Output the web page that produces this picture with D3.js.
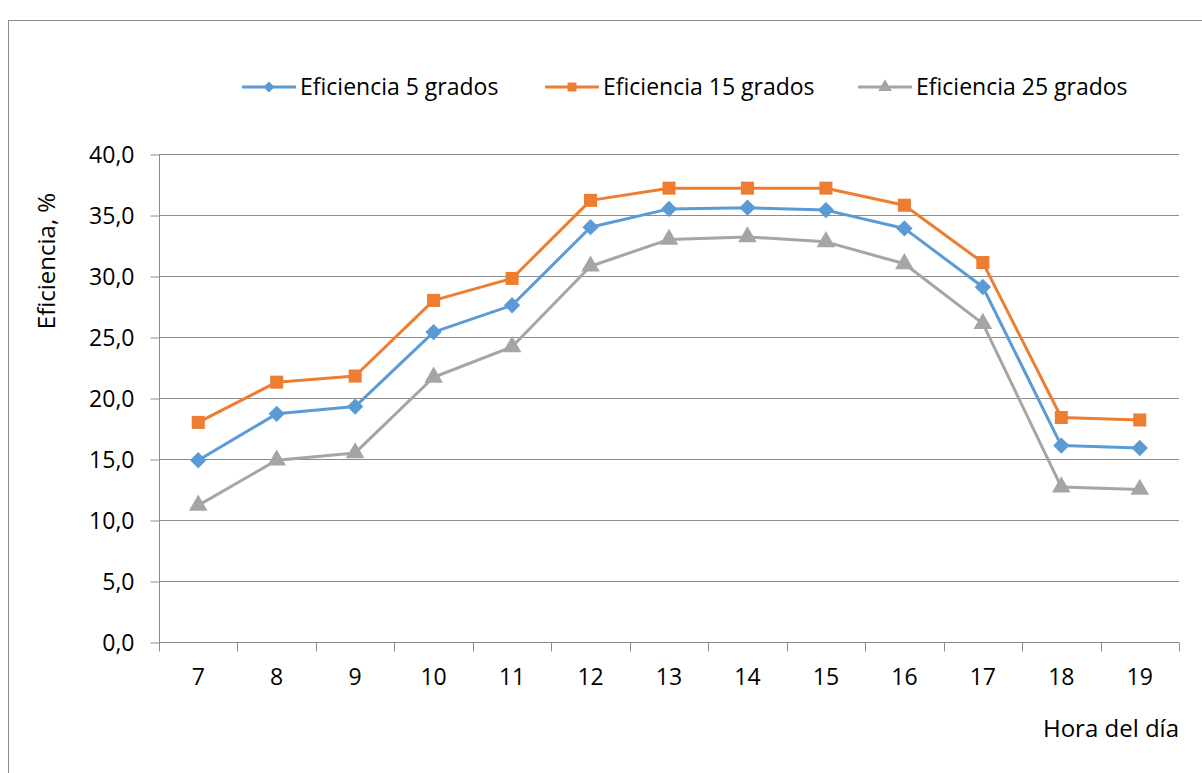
<!DOCTYPE html>
<html>
<head>
<meta charset="utf-8">
<script src="https://cdn.jsdelivr.net/npm/d3@7"></script>
<style>
  body { margin: 0; background: #fff; }
  svg text { font-family: "Open Sans", Lato, sans-serif; fill: #000; }
</style>
</head>
<body>
<div class="chart"></div>
<script>
  var horas      = ["7","8","9","10","11","12","13","14","15","16","17","18","19"];
  var ef5        = [14.9, 18.7, 19.3, 25.4, 27.6, 34.0, 35.5, 35.6, 35.4, 33.9, 29.1, 16.1, 15.9];
  var ef15       = [18.0, 21.3, 21.8, 28.0, 29.8, 36.2, 37.2, 37.2, 37.2, 35.8, 31.1, 18.4, 18.2];
  var ef25       = [11.2, 14.9, 15.5, 21.7, 24.2, 30.8, 33.0, 33.2, 32.8, 31.0, 26.1, 12.7, 12.5];
  var yTicks     = [0, 5, 10, 15, 20, 25, 30, 35, 40];
  var serieNames = ["Eficiencia 5 grados", "Eficiencia 15 grados", "Eficiencia 25 grados"];

  var series = [
    {name: serieNames[0], values: ef5,  color: "#5B9BD5", symbol: d3.symbolDiamond2},
    {name: serieNames[1], values: ef15, color: "#ED7D31", symbol: d3.symbolSquare},
    {name: serieNames[2], values: ef25, color: "#A5A5A5", symbol: d3.symbolTriangle}
  ];

  var W = 1202, H = 773;
  var plotL = 159, plotR = 1179, plotT = 154, plotB = 642;

  var svg = d3.select(".chart").append("svg")
    .attr("width", W).attr("height", H);

  // chart frame
  svg.append("rect")
    .attr("x", 8.5).attr("y", 20.5)
    .attr("width", W).attr("height", H)
    .attr("fill", "none").attr("stroke", "#8c8c8c");

  var x = d3.scaleBand().domain(horas).range([plotL, plotR]);
  var y = d3.scaleLinear().domain([0, 40]).range([plotB, plotT]);

  // gridlines
  svg.append("g").selectAll("line")
    .data(yTicks.slice(1))
    .enter().append("line")
    .attr("x1", plotL).attr("x2", plotR)
    .attr("y1", function(d){ return Math.round(y(d)) + 0.5; })
    .attr("y2", function(d){ return Math.round(y(d)) + 0.5; })
    .attr("stroke", "#8c8c8c").attr("stroke-width", 1);

  // y axis
  var yAxis = svg.append("g")
    .attr("transform", "translate(" + (plotL + 0.5) + ",0.5)")
    .call(d3.axisLeft(y).tickValues(yTicks).tickSize(9).tickPadding(16)
      .tickFormat(function(d){ return d3.format(".1f")(d).replace(".", ","); }));
  yAxis.selectAll("path, line").attr("stroke", "#8c8c8c");
  yAxis.select(".domain").attr("d", "M0," + plotT + "V" + plotB);
  yAxis.selectAll("text").style("font-size", "23px").attr("dy", "0.35em");

  // x axis
  var xAxis = svg.append("g")
    .attr("transform", "translate(0," + (plotB + 0.5) + ")")
    .call(d3.axisBottom(x).tickSize(0).tickPadding(26));
  xAxis.select(".domain").attr("stroke", "#8c8c8c").attr("d", "M" + plotL + ",0H" + plotR);
  xAxis.selectAll("text").style("font-size", "23px");
  xAxis.append("g").selectAll("line")
    .data(horas.concat(["end"]))
    .enter().append("line")
    .attr("x1", function(d, i){ return Math.round(plotL + i * x.bandwidth()) + 0.5; })
    .attr("x2", function(d, i){ return Math.round(plotL + i * x.bandwidth()) + 0.5; })
    .attr("y1", 0).attr("y2", 9)
    .attr("stroke", "#8c8c8c");

  // axis titles
  svg.append("text")
    .attr("x", plotR).attr("y", 737)
    .attr("text-anchor", "end")
    .style("font-size", "24px")
    .text("Hora del día");

  svg.append("text")
    .attr("transform", "translate(55,261) rotate(-90)")
    .attr("text-anchor", "middle")
    .style("font-size", "24px")
    .text("Eficiencia, %");

  // lines + markers
  var line = d3.line()
    .x(function(d, i){ return x(horas[i]) + x.bandwidth() / 2; })
    .y(function(d){ return y(d); });

  series.forEach(function(s){
    svg.append("path")
      .datum(s.values)
      .attr("d", line)
      .attr("fill", "none")
      .attr("stroke", s.color)
      .attr("stroke-width", 3)
      .attr("stroke-linejoin", "round");

    svg.append("g").selectAll("path")
      .data(s.values)
      .enter().append("path")
      .attr("transform", function(d, i){
        return "translate(" + (x(horas[i]) + x.bandwidth() / 2) + "," + y(d) + ")";
      })
      .attr("d", d3.symbol().type(s.symbol).size(s.symbol === d3.symbolTriangle ? 150 : 170))
      .attr("fill", s.color);
  });

  // legend
  var legendX = [242, 545, 858];
  var legend = svg.append("g").selectAll("g")
    .data(series)
    .enter().append("g")
    .attr("transform", function(d, i){ return "translate(" + legendX[i] + ",87)"; });

  legend.append("line")
    .attr("x1", 0).attr("x2", 54)
    .attr("stroke", function(d){ return d.color; })
    .attr("stroke-width", 3);
  legend.append("path")
    .attr("transform", "translate(27,0)")
    .attr("d", function(d){ return d3.symbol().type(d.symbol).size(80)(); })
    .attr("fill", function(d){ return d.color; });
  legend.append("text")
    .attr("x", 58).attr("dy", "0.35em")
    .style("font-size", "23px")
    .text(function(d){ return d.name; });
</script>
</body>
</html>
